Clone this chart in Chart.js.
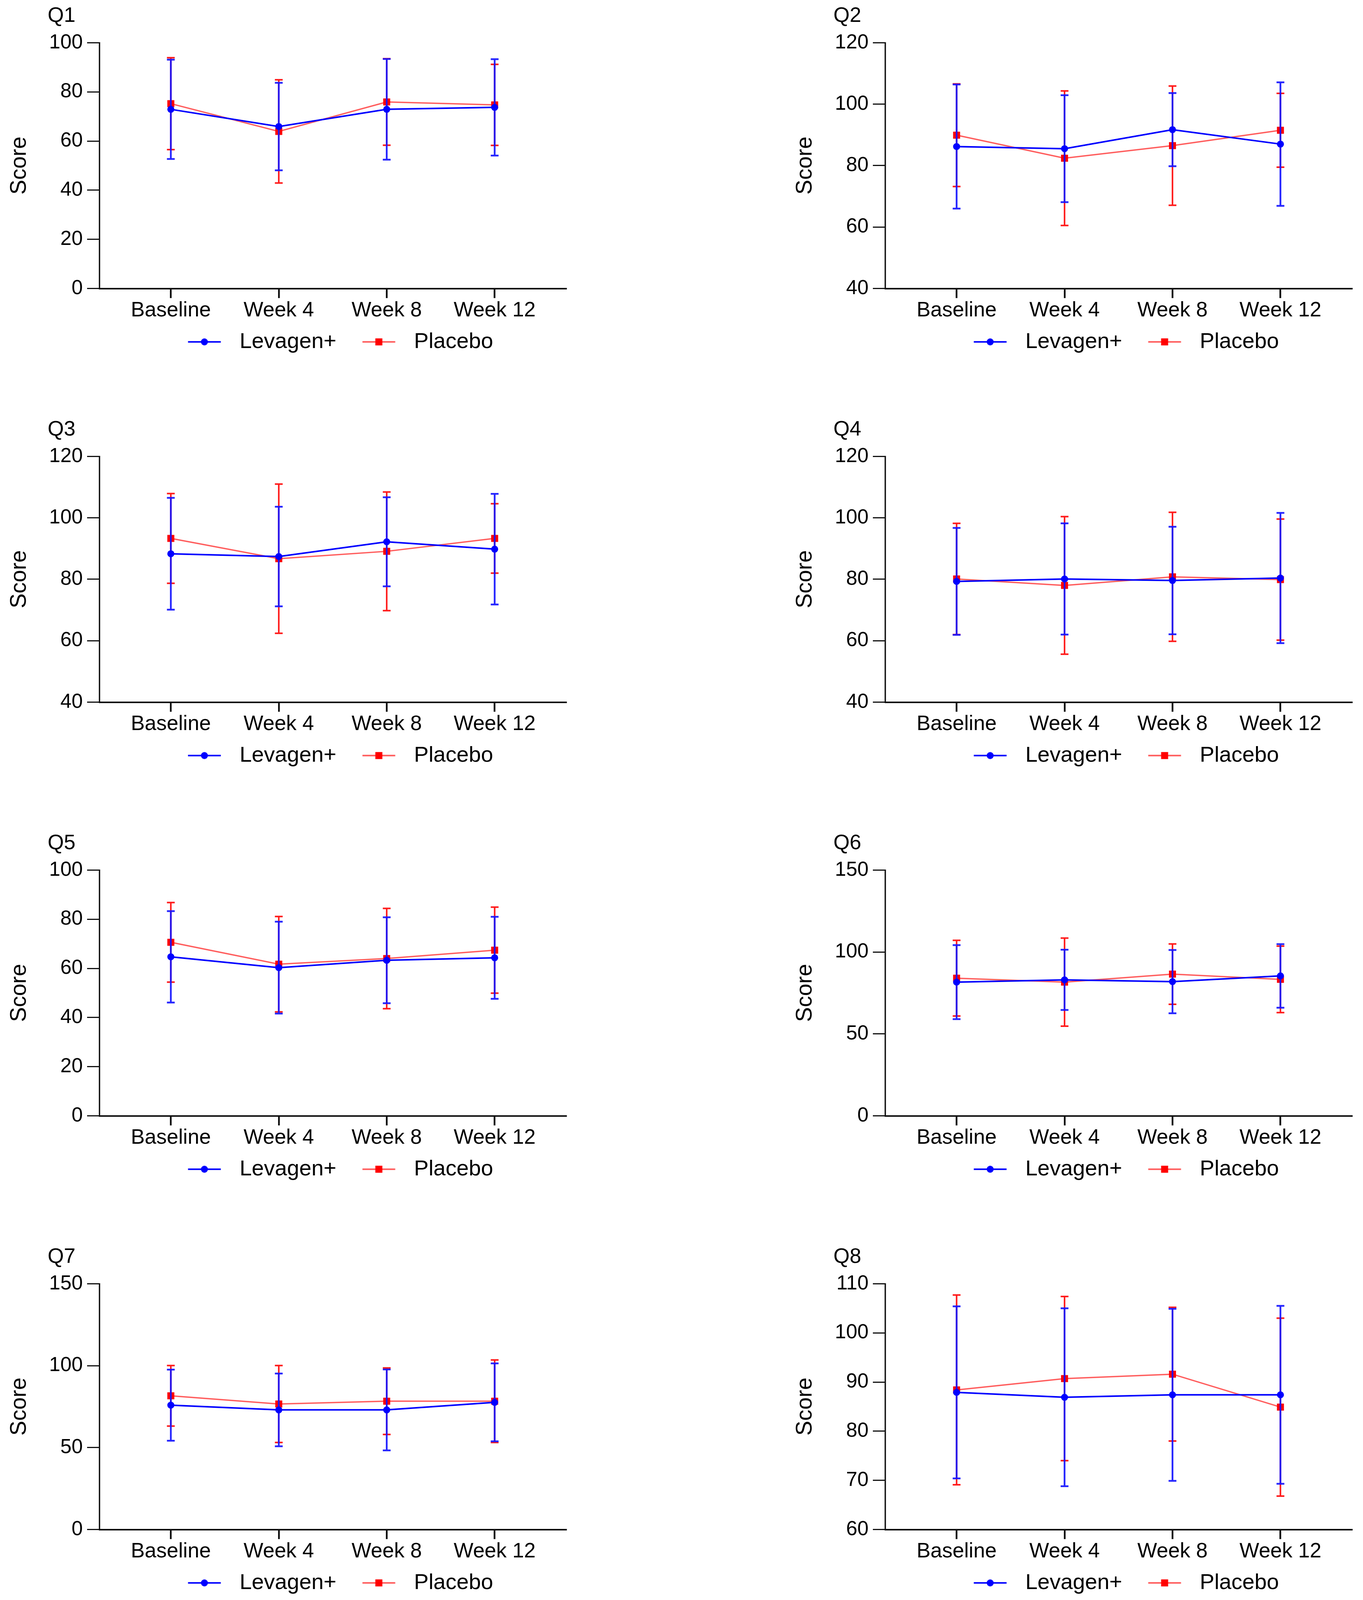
<!DOCTYPE html>
<html>
<head>
<meta charset="utf-8">
<script src="https://cdn.jsdelivr.net/npm/chart.js@4.4.1/dist/chart.umd.min.js"></script>
<style>
  html, body { margin: 0; padding: 0; background: #fff; overflow: hidden; }
  body { width: 3490px; position: relative; }
  canvas { position: absolute; }
  .qt { position: absolute; font-family: 'Liberation Sans', Arial, sans-serif; color: #000; white-space: nowrap; }
</style>
</head>
<body>
<script>
// ---------------- DATA ----------------
const categories = ['Baseline', 'Week 4', 'Week 8', 'Week 12'];
const seriesNames = ['Levagen+', 'Placebo'];
const panelTitles = ['Q1', 'Q2', 'Q3', 'Q4', 'Q5', 'Q6', 'Q7', 'Q8'];
const yAxisTitle = 'Score';

// means and SD (error-bar half length) per question
const q1Levagen = [72.9, 65.9, 72.9, 73.7];
const q1LevagenSD = [20.2, 17.8, 20.5, 19.6];
const q1Placebo = [75.2, 63.9, 75.9, 74.7];
const q1PlaceboSD = [18.7, 21.0, 17.6, 16.5];

const q2Levagen = [86.2, 85.5, 91.7, 87.0];
const q2LevagenSD = [20.2, 17.4, 11.9, 20.1];
const q2Placebo = [89.9, 82.4, 86.5, 91.5];
const q2PlaceboSD = [16.7, 21.9, 19.4, 12.0];

const q3Levagen = [88.3, 87.4, 92.2, 89.8];
const q3LevagenSD = [18.2, 16.2, 14.5, 18.0];
const q3Placebo = [93.3, 86.7, 89.1, 93.3];
const q3PlaceboSD = [14.6, 24.3, 19.3, 11.3];

const q4Levagen = [79.3, 80.1, 79.6, 80.4];
const q4LevagenSD = [17.4, 18.1, 17.5, 21.2];
const q4Placebo = [80.1, 78.0, 80.8, 79.9];
const q4PlaceboSD = [18.1, 22.4, 21.0, 19.7];

const q5Levagen = [64.7, 60.3, 63.3, 64.3];
const q5LevagenSD = [18.6, 18.7, 17.5, 16.7];
const q5Placebo = [70.6, 61.7, 64.0, 67.4];
const q5PlaceboSD = [16.2, 19.4, 20.4, 17.5];

const q6Levagen = [81.6, 83.0, 81.9, 85.4];
const q6LevagenSD = [22.6, 18.4, 19.3, 19.4];
const q6Placebo = [84.0, 81.6, 86.5, 83.3];
const q6PlaceboSD = [23.1, 26.9, 18.4, 20.3];

const q7Levagen = [75.9, 73.0, 73.0, 77.6];
const q7LevagenSD = [21.7, 22.2, 24.7, 23.8];
const q7Placebo = [81.6, 76.6, 78.3, 78.3];
const q7PlaceboSD = [18.5, 23.5, 20.3, 25.2];

const q8Levagen = [87.9, 86.9, 87.4, 87.4];
const q8LevagenSD = [17.5, 18.1, 17.5, 18.1];
const q8Placebo = [88.4, 90.7, 91.6, 84.9];
const q8PlaceboSD = [19.3, 16.7, 13.6, 18.1];

// y-axis range and tick step per question
const yMin = [0, 40, 40, 40, 0, 0, 0, 60];
const yMax = [100, 120, 120, 120, 100, 150, 150, 110];
const yStep = [20, 20, 20, 20, 20, 50, 50, 10];

const levagenMeans = [q1Levagen, q2Levagen, q3Levagen, q4Levagen, q5Levagen, q6Levagen, q7Levagen, q8Levagen];
const levagenSDs = [q1LevagenSD, q2LevagenSD, q3LevagenSD, q4LevagenSD, q5LevagenSD, q6LevagenSD, q7LevagenSD, q8LevagenSD];
const placeboMeans = [q1Placebo, q2Placebo, q3Placebo, q4Placebo, q5Placebo, q6Placebo, q7Placebo, q8Placebo];
const placeboSDs = [q1PlaceboSD, q2PlaceboSD, q3PlaceboSD, q4PlaceboSD, q5PlaceboSD, q6PlaceboSD, q7PlaceboSD, q8PlaceboSD];

// ---------------- STYLE / LAYOUT ----------------
// Designed for a 3490 x 5169 page; if the visible viewport is shorter,
// vertical distances are scaled so the whole figure stays visible.
const REF_H = 5169;
const VIEW_H = Math.min(window.innerHeight || REF_H, REF_H);
const KY = VIEW_H / REF_H;
const FS = Math.sqrt(KY);
document.body.style.height = VIEW_H + 'px';

const FONT = "'Liberation Sans', Arial, sans-serif";
const BLUE = '#0000ff';
const BLUE_BAR = 'rgba(20,20,255,0.92)';
const RED = '#ff0000';
const RED_LINE = 'rgba(255,30,30,0.72)';
const RED_BAR = '#ff1a1a';
const AXIS = '#111';

const F_TICK_X = 60 * FS, F_TICK_Y = 58 * FS, F_LEG = 63 * FS, F_TITLE = 60 * FS, F_YT = 64 * FS;

const COL_X = [0, 2012];
const ROW_Y = [0, 1336.5, 2673, 4009.5].map(v => v * KY);
const CANVAS_W = 1478;
const CANVAS_H = Math.round(1200 * KY);
const AXIS_LEFT = 255;
const PLOT_W = 1194;
const PLOT_TOP = 138 * KY;
const PLOT_H = 794 * KY;

// x axis tick marks / labels
const X_TICK_LEN = 31 * KY;
const X_LABEL_CENTER = 71.5 * KY;                      // below x axis
const X_LABEL_PAD = Math.max(0, X_LABEL_CENTER - X_TICK_LEN - 0.6 * F_TICK_X);
const XAXIS_H = X_LABEL_CENTER + 0.4 * F_TICK_X + 4;   // box must hold the labels

// legend geometry
const T2 = 805;                                        // 2nd text start, from plot left
const LEG_CENTER = 172.5 * KY;                         // below x axis
const mctx = document.createElement('canvas').getContext('2d');
mctx.font = F_LEG + 'px ' + FONT;
const W1 = mctx.measureText(seriesNames[0]).width;
const W2 = mctx.measureText(seriesNames[1]).width;
const LEG_PAD = Math.max(4, LEG_CENTER - XAXIS_H - F_LEG / 2);
const T1 = (PLOT_W - W1 - W2 - LEG_PAD) / 2;
const BOX_W = Math.max(40, T2 - T1 - W1 - F_LEG / 2 - LEG_PAD);
const LEG_H = F_LEG + LEG_PAD + 10;

const errorBarPlugin = {
  id: 'errorBars',
  beforeDatasetDraw(chart, args) {
    const ds = chart.data.datasets[args.index];
    if (!ds.sd) return;
    const ctx = chart.ctx;
    const ys = chart.scales.y;
    const cap = 10;
    ctx.save();
    ctx.strokeStyle = ds.barColor;
    ctx.lineWidth = ds.barWidth;
    args.meta.data.forEach((pt, i) => {
      const m = ds.data[i].y;
      const s = ds.sd[i];
      const yT = ys.getPixelForValue(m + s);
      const yB = ys.getPixelForValue(m - s);
      ctx.beginPath();
      ctx.moveTo(pt.x, yT); ctx.lineTo(pt.x, yB);
      ctx.moveTo(pt.x - cap, yT); ctx.lineTo(pt.x + cap, yT);
      ctx.moveTo(pt.x - cap, yB); ctx.lineTo(pt.x + cap, yB);
      ctx.stroke();
    });
    ctx.restore();
  }
};

function legendIcon(lineColor, markColor, shape) {
  const c = document.createElement('canvas');
  c.width = Math.ceil(2 * (BOX_W / 2 + F_LEG / 2) + 40); c.height = 40;
  const g = c.getContext('2d');
  const cx = c.width / 2, cy = 20;
  const lineEnd = cx + BOX_W / 2 + F_LEG / 2 - 48;
  const lineStart = lineEnd - 84;
  g.strokeStyle = lineColor; g.lineWidth = 4;
  g.beginPath(); g.moveTo(lineStart, cy); g.lineTo(lineEnd, cy); g.stroke();
  const mx = (lineStart + lineEnd) / 2;
  g.fillStyle = markColor;
  if (shape === 'circle') { g.beginPath(); g.arc(mx, cy, 9, 0, Math.PI * 2); g.fill(); }
  else { g.fillRect(mx - 9, cy - 9, 18, 18); }
  return c;
}
const icons = [legendIcon(BLUE, BLUE, 'circle'), legendIcon(RED_LINE, RED, 'rect')];

function makePanel(p) {
  const col = p % 2, row = Math.floor(p / 2);
  const left = COL_X[col], top = ROW_Y[row];

  const t = document.createElement('div');
  t.className = 'qt';
  t.textContent = panelTitles[p];
  t.style.fontSize = F_TITLE + 'px';
  t.style.lineHeight = F_TITLE + 'px';
  t.style.left = (left + AXIS_LEFT - 133) + 'px';
  t.style.top = (top + 71 * KY - 0.8465 * F_TITLE) + 'px';
  document.body.appendChild(t);

  const cv = document.createElement('canvas');
  cv.width = CANVAS_W; cv.height = CANVAS_H;
  cv.style.left = left + 'px'; cv.style.top = top + 'px';
  cv.style.width = CANVAS_W + 'px'; cv.style.height = CANVAS_H + 'px';
  document.body.appendChild(cv);

  const toPts = arr => arr.map((v, i) => ({ x: i, y: v }));

  new Chart(cv, {
    type: 'line',
    data: {
      datasets: [
        {
          label: seriesNames[0], data: toPts(levagenMeans[p]), sd: levagenSDs[p],
          borderColor: BLUE, borderWidth: 4, pointStyle: 'circle', pointRadius: 9,
          pointBackgroundColor: BLUE, pointBorderColor: BLUE, pointBorderWidth: 0,
          barColor: BLUE_BAR, barWidth: 4.5, tension: 0, clip: false
        },
        {
          label: seriesNames[1], data: toPts(placeboMeans[p]), sd: placeboSDs[p],
          borderColor: RED_LINE, borderWidth: 3.5, pointStyle: 'rect', pointRadius: 12.7,
          pointBackgroundColor: RED, pointBorderColor: RED, pointBorderWidth: 0,
          barColor: RED_BAR, barWidth: 4, tension: 0, clip: false
        }
      ]
    },
    options: {
      responsive: false,
      animation: false,
      devicePixelRatio: 1,
      layout: {
        padding: {
          left: 0, top: PLOT_TOP, right: CANVAS_W - AXIS_LEFT - PLOT_W,
          bottom: Math.max(0, CANVAS_H - PLOT_TOP - PLOT_H - XAXIS_H - LEG_H)
        }
      },
      scales: {
        x: {
          type: 'linear', min: -0.66, max: 3.66,
          afterBuildTicks: s => { s.ticks = categories.map((c, i) => ({ value: i })); },
          afterFit: s => { s.height = XAXIS_H; },
          ticks: {
            callback: v => categories[v], autoSkip: false, maxRotation: 0, minRotation: 0,
            font: { family: FONT, size: F_TICK_X }, color: '#000', padding: X_LABEL_PAD
          },
          grid: { drawOnChartArea: false, drawTicks: true, tickLength: X_TICK_LEN, lineWidth: 4.5, color: AXIS },
          border: { display: true, color: AXIS, width: 4 }
        },
        y: {
          min: yMin[p], max: yMax[p],
          afterFit: s => { s.width = AXIS_LEFT; },
          ticks: { stepSize: yStep[p], font: { family: FONT, size: F_TICK_Y }, color: '#000', padding: 11 },
          grid: { drawOnChartArea: false, drawTicks: true, tickLength: 32, lineWidth: 3, color: AXIS },
          border: { display: true, color: AXIS, width: 3.5 },
          title: {
            display: true, text: yAxisTitle, font: { family: FONT, size: F_YT }, color: '#000',
            padding: { top: Math.max(0, 50 - 0.6 * F_YT), bottom: 0 }
          }
        }
      },
      plugins: {
        tooltip: { enabled: false },
        title: { display: false },
        legend: {
          display: true, position: 'bottom', fullSize: false,
          labels: {
            usePointStyle: true, pointStyleWidth: BOX_W, padding: LEG_PAD,
            font: { family: FONT, size: F_LEG }, color: '#000',
            generateLabels: chart => chart.data.datasets.map((ds, i) => ({
              text: ds.label, pointStyle: icons[i], datasetIndex: i, hidden: false,
              lineWidth: 0, strokeStyle: 'rgba(0,0,0,0)', fillStyle: 'rgba(0,0,0,0)', fontColor: '#000'
            }))
          }
        }
      }
    },
    plugins: [errorBarPlugin]
  });
}

for (let p = 0; p < 8; p++) makePanel(p);
</script>
</body>
</html>
